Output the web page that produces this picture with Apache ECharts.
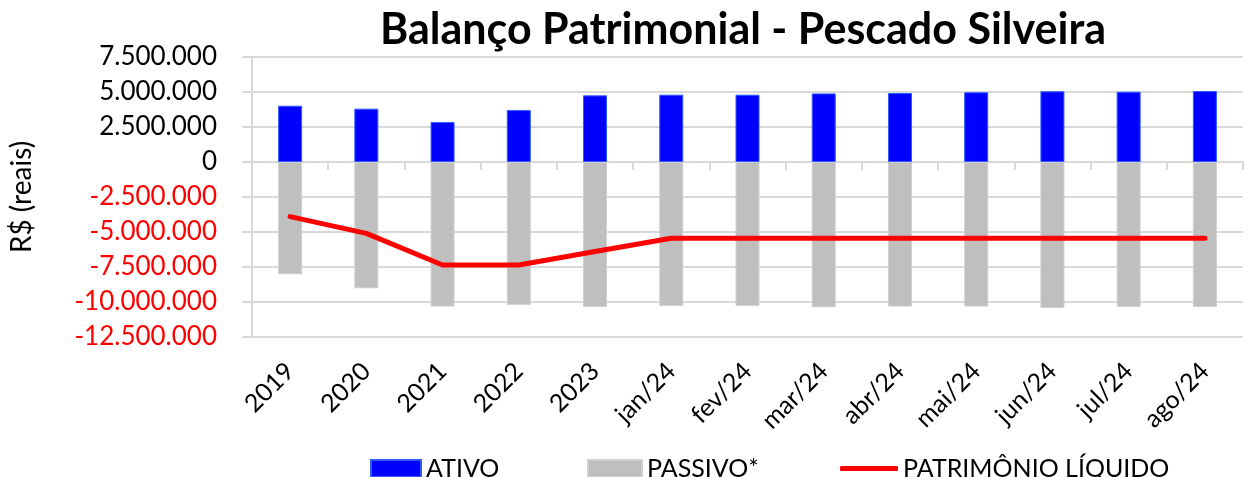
<!DOCTYPE html>
<html>
<head>
<meta charset="utf-8">
<script src="https://cdn.jsdelivr.net/npm/echarts@6/dist/echarts.min.js"></script>
<style>
  html, body { margin: 0; padding: 0; background: #fff; }
  #chart { width: 1258px; height: 477px; }
</style>
</head>
<body>
<div id="chart"></div>
<script>
const categories = ['2019', '2020', '2021', '2022', '2023', 'jan/24', 'fev/24', 'mar/24', 'abr/24', 'mai/24', 'jun/24', 'jul/24', 'ago/24'];
const ativo = [4020000, 3810000, 2860000, 3710000, 4760000, 4810000, 4810000, 4900000, 4930000, 4980000, 5050000, 5020000, 5070000];
const passivo = [-8020000, -9020000, -10330000, -10210000, -10360000, -10290000, -10290000, -10380000, -10330000, -10330000, -10430000, -10360000, -10360000];
const patrimonio = [-3900000, -5100000, -7360000, -7360000, -6390000, -5450000, -5450000, -5450000, -5450000, -5450000, -5450000, -5450000, -5450000];

const FONT = 'Lato, "Open Sans", sans-serif';
const GRID_COLOR = '#d9d9d9';

// 7.500.000 style
const fmt = v => {
  const s = Math.abs(v).toString().replace(/\B(?=(\d{3})+(?!\d))/g, '.');
  return (v < 0 ? '-' : '') + s;
};

const chart = echarts.init(document.getElementById('chart'), null, { renderer: 'canvas' });

const legendText = { fontFamily: FONT, fontSize: 25, color: '#000' };

chart.setOption({
  animation: false,
  backgroundColor: '#fff',
  title: {
    text: 'Balanço Patrimonial - Pescado Silveira',
    left: 738,
    textAlign: 'center',
    top: 4,
    textStyle: { fontFamily: FONT, fontSize: 43, fontWeight: 'bold', color: '#000' }
  },
  grid: { left: 247, right: 15, top: 57, bottom: 140 },
  legend: [
    {
      data: [{ name: 'ATIVO', icon: 'rect' }],
      left: 365, top: 451, itemWidth: 50, itemHeight: 17, itemGap: 6,
      textStyle: legendText
    },
    {
      data: [{ name: 'PASSIVO*', icon: 'rect' }],
      left: 582, top: 451, itemWidth: 54, itemHeight: 17,
      textStyle: legendText
    },
    {
      data: [{ name: 'PATRIMÔNIO LÍQUIDO', icon: 'roundRect' }],
      left: 835, top: 451, itemWidth: 58, itemHeight: 5,
      textStyle: legendText
    }
  ],
  xAxis: [
    {
      type: 'category',
      data: categories,
      position: 'bottom',
      axisLine: { show: false, onZero: false },
      axisTick: { show: false },
      axisLabel: {
        rotate: 45,
        margin: 30,
        fontFamily: FONT,
        fontSize: 25,
        color: '#000'
      }
    },
    {
      type: 'category',
      data: categories,
      position: 'top',
      axisLine: { show: true, onZero: true, lineStyle: { color: GRID_COLOR, width: 2 } },
      axisTick: { show: true, inside: true, length: 8, lineStyle: { color: GRID_COLOR, width: 2 } },
      axisLabel: { show: false }
    }
  ],
  yAxis: {
    type: 'value',
    min: -12500000,
    max: 7500000,
    interval: 2500000,
    name: 'R$ (reais)',
    nameLocation: 'middle',
    nameGap: 216,
    nameTextStyle: { fontFamily: FONT, fontSize: 28, color: '#000' },
    axisLine: { show: true, lineStyle: { color: GRID_COLOR, width: 2 } },
    axisTick: { show: true, length: 10, lineStyle: { color: GRID_COLOR, width: 2 } },
    splitLine: { lineStyle: { color: GRID_COLOR, width: 2 } },
    axisLabel: {
      margin: 35,
      fontFamily: FONT,
      fontSize: 26,
      formatter: v => fmt(v),
      color: v => (Number(v) < 0 ? '#ff0000' : '#000')
    }
  },
  series: [
    {
      name: 'ATIVO',
      type: 'bar',
      data: ativo,
      barWidth: 24,
      barGap: '-100%',
      itemStyle: { color: '#0000ff', borderColor: '#2e5bff', borderWidth: 1 }
    },
    {
      name: 'PASSIVO*',
      type: 'bar',
      data: passivo,
      barWidth: 24,
      barGap: '-100%',
      itemStyle: { color: '#bfbfbf', borderColor: '#d0d0d0', borderWidth: 1 }
    },
    {
      name: 'PATRIMÔNIO LÍQUIDO',
      type: 'line',
      data: patrimonio,
      symbol: 'none',
      lineStyle: { color: '#ff0000', width: 5, cap: 'round', join: 'round' },
      itemStyle: { color: '#ff0000' }
    }
  ]
});
</script>
</body>
</html>
